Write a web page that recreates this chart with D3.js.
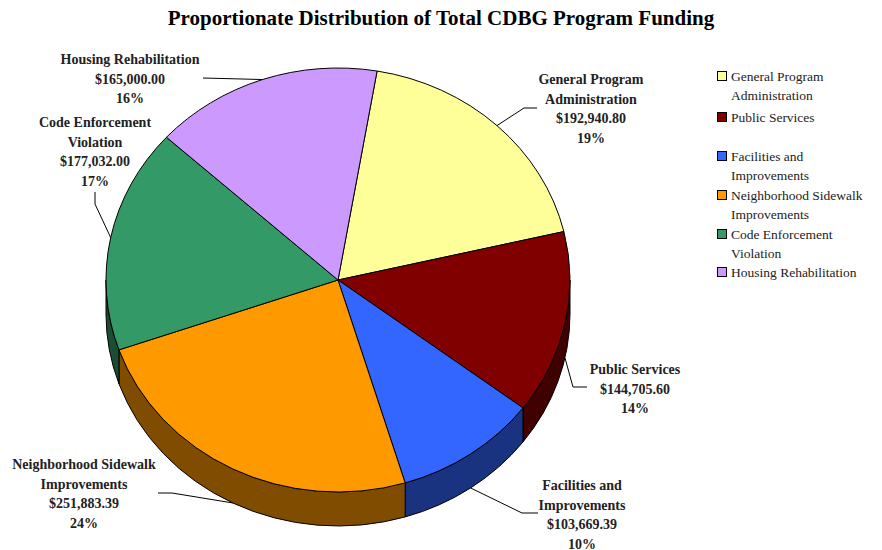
<!DOCTYPE html>
<html>
<head>
<meta charset="utf-8">
<script src="https://cdn.jsdelivr.net/npm/d3@7"></script>
<style>
  html, body { margin: 0; padding: 0; background: #fff; }
  svg { display: block; font-family: "Liberation Serif", "DejaVu Serif", serif; }
</style>
</head>
<body>
<svg id="chart" width="882" height="550"></svg>
<script>
// CDBG program funding by activity
const categories = [
  "General Program Administration",
  "Public Services",
  "Facilities and Improvements",
  "Neighborhood Sidewalk Improvements",
  "Code Enforcement Violation",
  "Housing Rehabilitation"
];
const amounts = [192940.80, 144705.60, 103669.39, 251883.39, 177032.00, 165000.00];
const percentLabels = ["19%", "14%", "10%", "24%", "17%", "16%"];
const topColors = ["#FFFF99", "#800000", "#3366FF", "#FF9900", "#339966", "#CC99FF"];

// Wrapped name lines used by the slice labels and the legend
const labelLines = [
  ["General Program", "Administration"],
  ["Public Services"],
  ["Facilities and", "Improvements"],
  ["Neighborhood Sidewalk", "Improvements"],
  ["Code Enforcement", "Violation"],
  ["Housing Rehabilitation"]
];
const legendLines = [
  ["General Program", "Administration"],
  ["Public Services"],
  ["Facilities and", "Improvements"],
  ["Neighborhood Sidewalk", "Improvements"],
  ["Code Enforcement", "Violation"],
  ["Housing Rehabilitation"]
];

const svg = d3.select("#chart");

// Title
svg.append("text")
  .attr("x", 441).attr("y", 25)
  .attr("text-anchor", "middle")
  .attr("font-size", 21).attr("font-weight", "bold")
  .attr("fill", "#000")
  .text("Proportionate Distribution of Total CDBG Program Funding");

// Pie geometry: elliptical top face with a visible front wall
const cx = 338, cy = 280, rx = 232, ry = 212, depth = 34;
const rot = 9.7 * Math.PI / 180;

const pie = d3.pie().sort(null).value(d => d)
  .startAngle(rot).endAngle(rot + 2 * Math.PI);
const arcs = pie(amounts);

const px = a => cx + rx * Math.sin(a);
const py = (a, dy = 0) => cy - ry * Math.cos(a) + dy;

function topPath(a0, a1) {
  const large = (a1 - a0) > Math.PI ? 1 : 0;
  return `M${cx},${cy}L${px(a0)},${py(a0)}A${rx},${ry} 0 ${large} 1 ${px(a1)},${py(a1)}Z`;
}
function sidePath(a0, a1) {
  const large = (a1 - a0) > Math.PI ? 1 : 0;
  return `M${px(a0)},${py(a0)}A${rx},${ry} 0 ${large} 1 ${px(a1)},${py(a1)}` +
         `L${px(a1)},${py(a1, depth)}A${rx},${ry} 0 ${large} 0 ${px(a0)},${py(a0, depth)}Z`;
}
const darken = c => { const r = d3.rgb(c); return d3.rgb(r.r * 0.5, r.g * 0.5, r.b * 0.5).formatHex(); };

// Front wall: only the part of each slice facing the viewer (angles 90°..270°)
const frontLo = Math.PI / 2, frontHi = 3 * Math.PI / 2;
const sides = [];
arcs.forEach((d, i) => {
  for (const off of [0, 2 * Math.PI]) {
    const a0 = Math.max(d.startAngle - off, frontLo);
    const a1 = Math.min(d.endAngle - off, frontHi);
    if (a1 > a0) sides.push({ a0, a1, i });
  }
});
svg.append("g").selectAll("path").data(sides).join("path")
  .attr("d", s => sidePath(s.a0, s.a1))
  .attr("fill", s => darken(topColors[s.i]))
  .attr("stroke", "#000").attr("stroke-width", 1).attr("stroke-linejoin", "round");

svg.append("g").selectAll("path").data(arcs).join("path")
  .attr("d", d => topPath(d.startAngle, d.endAngle))
  .attr("fill", (d, i) => topColors[i])
  .attr("stroke", "#000").attr("stroke-width", 1).attr("stroke-linejoin", "round");

// Data labels with leader lines
const fmt = d3.format("$,.2f");
const labelPos = [
  { x: 591, y: 84,  elbow: [[537, 108], [524, 108]] },
  { x: 635, y: 374, elbow: [[587, 387], [573, 387]] },
  { x: 582, y: 490, elbow: [[538, 513], [522, 513]] },
  { x: 84,  y: 469, elbow: [[158, 493], [172, 493]] },
  { x: 95,  y: 127, elbow: [[95, 192], [95, 204]] },
  { x: 130, y: 64,  elbow: [[203, 78]] }
];
const lineH = 19.5;

const labels = svg.append("g").attr("font-size", 14).attr("font-weight", "bold").attr("fill", "#222");
arcs.forEach((d, i) => {
  const p = labelPos[i];
  const lines = labelLines[i].concat([fmt(amounts[i]), percentLabels[i]]);
  const t = labels.append("text").attr("text-anchor", "middle");
  lines.forEach((s, k) => t.append("tspan").attr("x", p.x).attr("y", p.y + k * lineH).text(s));

  // leader ends on the slice edge at its mid angle (wall bottom for front slices)
  const m = (d.startAngle + d.endAngle) / 2;
  const mm = ((m % (2 * Math.PI)) + 2 * Math.PI) % (2 * Math.PI);
  const onFront = mm > frontLo && mm < frontHi;
  const end = [px(m), py(m, onFront ? depth : 0)];
  const pts = p.elbow.concat([end]);
  svg.append("path")
    .attr("d", d3.line()(pts))
    .attr("fill", "none").attr("stroke", "#000").attr("stroke-width", 1);
});

// Legend
const legend = svg.append("g").attr("font-size", 13.5).attr("fill", "#222");
const legendY = [76, 117, 156, 195, 234, 272];
categories.forEach((c, i) => {
  const g = legend.append("g").attr("transform", `translate(717,${legendY[i]})`);
  g.append("rect").attr("x", 0.5).attr("y", -4.5).attr("width", 9).attr("height", 9)
    .attr("fill", topColors[i]).attr("stroke", "#000").attr("stroke-width", 1);
  const t = g.append("text");
  legendLines[i].forEach((s, k) => t.append("tspan").attr("x", 14).attr("y", 5 + k * 19).text(s));
});
</script>
</body>
</html>
